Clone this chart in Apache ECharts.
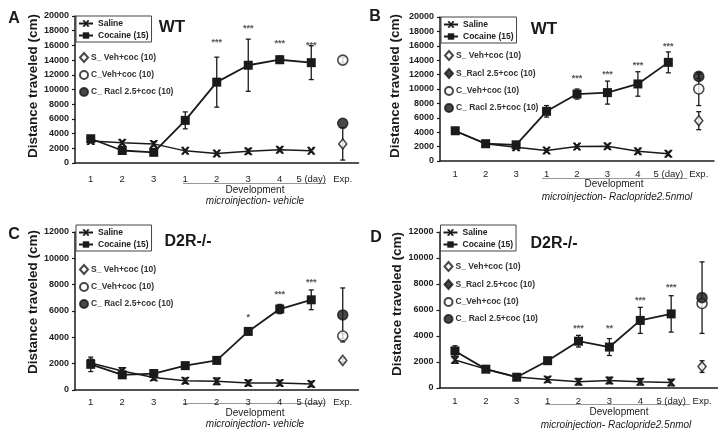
<!DOCTYPE html>
<html><head><meta charset="utf-8">
<script src="https://cdn.jsdelivr.net/npm/echarts@6/dist/echarts.min.js"></script>
<style>html,body{margin:0;padding:0;background:#fff}#c{width:724px;height:440px}</style>
</head><body><div id="c"></div>
<script>
const categories = ['1','2','3','1','2','3','4','5 (day)','Exp.'];
const expNames = ['S_ Veh+coc (10)','S_Racl 2.5+coc (10)','C_Veh+coc (10)','C_ Racl 2.5+coc (10)'];

// Panel A (WT, vehicle)
const salineA = [3000, 2750, 2600, 1650, 1300, 1600, 1800, 1650];
const salineErrA = [250, 250, 300, 200, 200, 300, 250, 200];
const cocaineA = [3300, 1700, 1450, 5800, 11000, 13300, 14050, 13650];
const cocaineErrA = [400, 300, 300, 1150, 3400, 3550, 500, 2300];
const expA = [2600, null, 14000, 5400];
const expErrA = [2200, 0, 400, 0];
const starTextA = ['', '', '', '', '***', '***', '***', '***'];
const starPosA = [0, 0, 0, 0, 16400, 18300, 16300, 16000];

// Panel B (WT, raclopride)
const salineB = [4150, 2400, 1900, 1450, 2000, 2050, 1350, 1000];
const salineErrB = [300, 200, 200, 250, 250, 250, 250, 250];
const cocaineB = [4200, 2400, 2250, 6900, 9300, 9500, 10700, 13700];
const cocaineErrB = [400, 250, 250, 800, 700, 1600, 1700, 1450];
const expB = [5600, null, 10000, 11750];
const expErrB = [1250, 0, 2300, 300];
const starTextB = ['', '', '', '', '***', '***', '***', '***'];
const starPosB = [0, 0, 0, 0, 11400, 12000, 13200, 15900];

// Panel C (D2R-/-, vehicle)
const salineC = [2050, 1450, 950, 700, 660, 530, 530, 450];
const salineErrC = [300, 250, 200, 200, 250, 200, 200, 200];
const cocaineC = [1950, 1150, 1250, 1850, 2250, 4450, 6150, 6850];
const cocaineErrC = [550, 200, 200, 200, 250, 200, 350, 750];
const expC = [2250, null, 4100, 5700];
const expErrC = [150, 0, 200, 2050];
const starTextC = ['', '', '', '', '', '*', '***', '***'];
const starPosC = [0, 0, 0, 0, 0, 5500, 7250, 8200];

// Panel D (D2R-/-, raclopride)
const salineD = [2150, 1450, 850, 650, 480, 580, 480, 420];
const salineErrD = [250, 150, 150, 200, 250, 250, 250, 250];
const cocaineD = [2850, 1450, 830, 2100, 3600, 3150, 5200, 5700];
const cocaineErrD = [400, 200, 150, 250, 450, 650, 1000, 1400];
const expD = [1650, null, 6500, 6950];
const expErrD = [450, 0, 0, 2750];
const starTextD = ['', '', '', '', '***', '**', '***', '***'];
const starPosD = [0, 0, 0, 0, 4600, 4600, 6700, 7700];

const FONT = 'Liberation Sans, Arial, sans-serif';
const INK = '#1a1a1a';
const xMark = 'path://M0,0 L3,0 L5,3.2 L7,0 L10,0 L10,1.2 L6.4,5 L10,8.8 L10,10 L7,10 L5,6.8 L3,10 L0,10 L0,8.8 L3.6,5 L0,1.2 Z';

const panels = [
  {sal: salineA, salE: salineErrA, coc: cocaineA, cocE: cocaineErrA, exp: expA, expE: expErrA, st: starTextA, sp: starPosA,
   grid: {left: 75, top: 16, width: 283.5, height: 147}, max: 20000, lblMargin: 11, exp4: false},
  {sal: salineB, salE: salineErrB, coc: cocaineB, cocE: cocaineErrB, exp: expB, expE: expErrB, st: starTextB, sp: starPosB,
   grid: {left: 440, top: 17, width: 274, height: 144}, max: 20000, lblMargin: 8, exp4: true},
  {sal: salineC, salE: salineErrC, coc: cocaineC, cocE: cocaineErrC, exp: expC, expE: expErrC, st: starTextC, sp: starPosC,
   grid: {left: 75, top: 232, width: 283.5, height: 158}, max: 12000, lblMargin: 7, exp4: false},
  {sal: salineD, salE: salineErrD, coc: cocaineD, cocE: cocaineErrD, exp: expD, expE: expErrD, st: starTextD, sp: starPosD,
   grid: {left: 439.5, top: 232, width: 278, height: 156}, max: 12000, lblMargin: 8, exp4: true}
];

function errRender(params, api) {
  const x = api.value(0), lo = api.value(1), hi = api.value(2);
  const p1 = api.coord([x, lo]), p2 = api.coord([x, hi]);
  const w = 2.5;
  const st = {stroke: INK, lineWidth: 1.3};
  return {type: 'group', children: [
    {type: 'line', shape: {x1: p1[0], y1: p1[1], x2: p2[0], y2: p2[1]}, style: st},
    {type: 'line', shape: {x1: p1[0]-w, y1: p1[1], x2: p1[0]+w, y2: p1[1]}, style: st},
    {type: 'line', shape: {x1: p2[0]-w, y1: p2[1], x2: p2[0]+w, y2: p2[1]}, style: st}
  ]};
}

const grids = [], xAxes = [], yAxes = [], series = [], legends = [];
panels.forEach((p, i) => {
  grids.push(p.grid);
  xAxes.push({type: 'category', gridIndex: i, data: categories, boundaryGap: true,
    axisLine: {lineStyle: {color: INK, width: 1.5}},
    axisTick: {inside: true, length: 3, lineStyle: {color: INK, width: 1.2}},
    axisLabel: {color: '#222', fontSize: 9.5, fontFamily: FONT, margin: p.lblMargin, interval: 0}});
  yAxes.push({type: 'value', gridIndex: i, min: 0, max: p.max, interval: 2000,
    axisLine: {show: true, lineStyle: {color: INK, width: 1.5}},
    axisTick: {show: true, length: 3, lineStyle: {color: INK, width: 1.2}},
    splitLine: {show: false},
    axisLabel: {color: '#222', fontSize: 9, fontWeight: 'bold', fontFamily: FONT, margin: 6,
      formatter: v => String(v)}});
  const errS = p.sal.map((v, k) => [k, v - p.salE[k], v + p.salE[k]]);
  const errC = p.coc.map((v, k) => [k, v - p.cocE[k], v + p.cocE[k]]);
  series.push({type: 'custom', xAxisIndex: i, yAxisIndex: i, renderItem: errRender, data: errS, z: 1, silent: true});
  series.push({type: 'custom', xAxisIndex: i, yAxisIndex: i, renderItem: errRender, data: errC, z: 1, silent: true});
  series.push({name: 'Saline', type: 'line', xAxisIndex: i, yAxisIndex: i, data: p.sal,
    symbol: xMark, symbolSize: 8, lineStyle: {color: INK, width: 1.5},
    itemStyle: {color: INK}, z: 3, animation: false});
  series.push({name: 'Cocaine (15)', type: 'line', xAxisIndex: i, yAxisIndex: i, data: p.coc,
    symbol: 'rect', symbolSize: 9, lineStyle: {color: INK, width: 1.8},
    itemStyle: {color: INK}, z: 4, animation: false});
  const expErrData = [];
  p.exp.forEach((v, k) => { if (v !== null && p.expE[k] > 0) expErrData.push([8, v - p.expE[k], v + p.expE[k]]); });
  series.push({type: 'custom', xAxisIndex: i, yAxisIndex: i, renderItem: errRender, data: expErrData, z: 1, silent: true});
  const styles = [
    {symbol: 'diamond', size: [8, 10], color: '#fff'},
    {symbol: 'diamond', size: [8, 10], color: INK},
    {symbol: 'circle', size: 10, color: '#fff'},
    {symbol: 'circle', size: 10, color: INK}
  ];
  const legendExp = [];
  p.exp.forEach((v, k) => {
    if (k === 1 && !p.exp4) return;
    legendExp.push(expNames[k]);
    series.push({name: expNames[k], type: 'scatter', xAxisIndex: i, yAxisIndex: i,
      data: v === null ? [] : [[8, v]], symbol: styles[k].symbol, symbolSize: styles[k].size,
      itemStyle: {color: styles[k].color, borderColor: INK, borderWidth: 1.6}, z: 5 + (k === 3 ? 1 : 0), animation: false});
  });
  const starData = [];
  p.st.forEach((t, k) => { if (t) starData.push([k, p.sp[k], k]); });
  series.push({type: 'custom', xAxisIndex: i, yAxisIndex: i, z: 6, silent: true, data: starData,
    renderItem: (params, api) => {
      const c = api.coord([api.value(0), api.value(1)]);
      return {type: 'text', x: c[0], y: c[1], style: {text: p.st[api.value(2)], fill: '#555',
        font: 'bold 9px ' + FONT, align: 'center', verticalAlign: 'middle'}};
    }});
  const g = p.grid;
  const low = (i === 2 || i === 3);
  legends.push({data: ['Saline', 'Cocaine (15)'], orient: 'vertical', left: g.left + 1, top: g.top + (low ? -7 : 0),
    borderColor: '#444', borderWidth: 1, padding: [3, 3, 2, 2], itemGap: 3, itemWidth: 14, itemHeight: 8,
    textStyle: {fontSize: 8.5, fontWeight: 'bold', fontFamily: FONT, color: '#222', padding: [0, 0, 0, 0]}, selectedMode: false});
  legends.push({data: legendExp, orient: 'vertical', left: g.left + 4, top: g.top + (low ? 32 : 36) + (p.exp4 ? -3 : 0),
    itemGap: 7, itemWidth: 8, itemHeight: 9, padding: 0,
    textStyle: {fontSize: 8.5, fontWeight: 'bold', fontFamily: FONT, color: '#333', padding: [0, 0, 0, -2]}, selectedMode: false});
});

function txt(x, y, t, font, opts) {
  return Object.assign({type: 'text', x: x, y: y, silent: true,
    style: {text: t, font: font, fill: INK, align: 'center', verticalAlign: 'middle'}}, opts || {});
}
function ln(x1, x2, y) {
  return {type: 'line', silent: true, shape: {x1: x1, y1: y, x2: x2, y2: y}, style: {stroke: '#999', lineWidth: 1}};
}
const ttl = 'bold 13.5px ' + FONT;
const graphics = [
  txt(14, 19, 'A', 'bold 16px ' + FONT), txt(375, 17, 'B', 'bold 16px ' + FONT),
  txt(14, 235, 'C', 'bold 16px ' + FONT), txt(376, 238, 'D', 'bold 16px ' + FONT),
  txt(172, 27, 'WT', 'bold 17px ' + FONT), txt(544, 29, 'WT', 'bold 17px ' + FONT),
  txt(188, 242, 'D2R-/-', 'bold 16px ' + FONT), txt(554, 244, 'D2R-/-', 'bold 16px ' + FONT),
  txt(33, 86, 'Distance traveled (cm)', ttl, {rotation: Math.PI / 2}),
  txt(395, 86, 'Distance traveled (cm)', ttl, {rotation: Math.PI / 2}),
  txt(33, 302, 'Distance traveled (cm)', ttl, {rotation: Math.PI / 2}),
  txt(397, 304, 'Distance traveled (cm)', ttl, {rotation: Math.PI / 2}),
  txt(255, 190, 'Development', '10px ' + FONT), txt(255, 201, 'microinjection- vehicle', 'italic 10px ' + FONT),
  txt(614, 184, 'Development', '10px ' + FONT), txt(617, 197, 'microinjection- Raclopride2.5nmol', 'italic 10px ' + FONT),
  txt(255, 413, 'Development', '10px ' + FONT), txt(255, 424, 'microinjection- vehicle', 'italic 10px ' + FONT),
  txt(619, 412, 'Development', '10px ' + FONT), txt(616, 425, 'microinjection- Raclopride2.5nmol', 'italic 10px ' + FONT),
  ln(183, 326, 183.5), ln(542, 687, 178.5), ln(183, 325, 403.5), ln(545, 690, 404.5)
];

const chart = echarts.init(document.getElementById('c'), null, {renderer: 'canvas'});
chart.setOption({
  animation: false, backgroundColor: '#fff',
  grid: grids, xAxis: xAxes, yAxis: yAxes, series: series, legend: legends, graphic: graphics
});
</script></body></html>
